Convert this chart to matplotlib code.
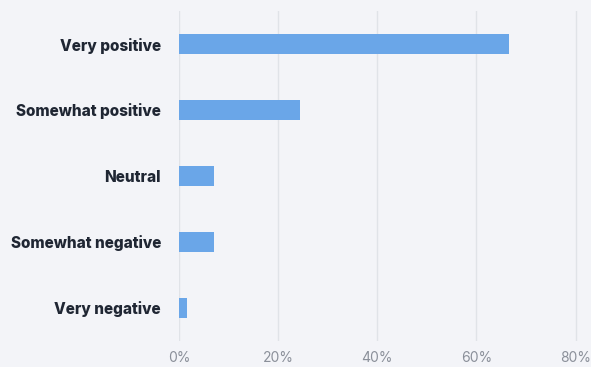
import matplotlib.pyplot as plt
from matplotlib.ticker import FuncFormatter

categories = ['Very positive', 'Somewhat positive', 'Neutral',
              'Somewhat negative', 'Very negative']
shares = [66.5, 24.5, 7, 7, 1.7]
ticks = [0, 20, 40, 60, 80]

bg = '#f3f4f8'
fig = plt.figure(figsize=(5.91, 3.67), dpi=100, facecolor=bg)
ax = fig.add_axes([0.303, 0.071, 0.675, 0.899], facecolor=bg)

y = list(range(len(categories)))
ax.barh(y, shares, height=0.3, color='#6aa6e8', zorder=3)
ax.set_ylim(len(categories) - 0.5, -0.5)
ax.set_xlim(0, 80.5)
ax.set_xticks(ticks)
ax.xaxis.set_major_formatter(FuncFormatter(lambda v, p: f'{v:.0f}%'))
ax.set_yticks(y)
ax.set_yticklabels(categories, fontfamily='Inter', fontweight='heavy',
                   fontsize=11, color='#1f2633')
ax.grid(axis='x', color='#e0e3e8', linewidth=1, zorder=0)
for s in ax.spines.values():
    s.set_visible(False)
ax.tick_params(axis='y', length=0, pad=13)
ax.tick_params(axis='x', length=0, pad=7, labelsize=10, labelcolor='#8b909a')
for t in ax.get_xticklabels():
    t.set_fontfamily('Inter')

fig.savefig('out.png', dpi=100, facecolor=bg)
plt.close()
